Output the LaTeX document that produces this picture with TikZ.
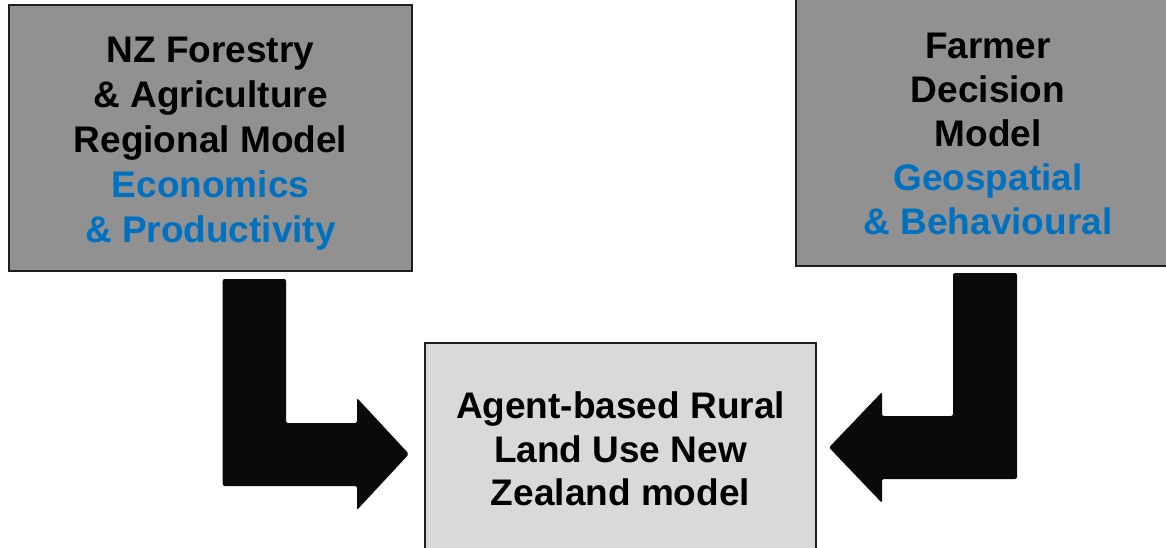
\documentclass[tikz,border=0pt]{standalone}
\usepackage{fontspec}
\setmainfont{Liberation Sans}
\definecolor{boxgray}{HTML}{919191}
\definecolor{boxlight}{HTML}{D9D9D9}
\definecolor{accent}{HTML}{0070C0}
\definecolor{arrowblack}{HTML}{0A0A0A}
\definecolor{edge}{HTML}{1E1E1E}
\tikzset{
  modelbox/.style={draw=edge, line width=1.3pt, inner sep=0pt},
  boxtext/.style={inner sep=0pt, align=center, font=\fontsize{37}{45}\selectfont\bfseries},
  blockarrow/.style={fill=arrowblack, draw=none, rounded corners=2pt}
}
\begin{document}
\begin{tikzpicture}[x=1pt,y=-1pt]
\useasboundingbox (0,0) rectangle (1166,548);
\clip (0,0) rectangle (1166,548);
\fill[white] (0,0) rectangle (1166,548);
\node[modelbox, fill=boxgray, minimum width=403pt, minimum height=266pt] (nzfarm) at (210.5,138) {};
\node[boxtext] (nzfarmtext) at ([yshift=-5.5pt]nzfarm.center)
  {NZ Forestry\\ \& Agriculture\\ Regional Model\\ \textcolor{accent}{Economics}\\ \textcolor{accent}{\& Productivity}};
\node[modelbox, fill=boxgray, minimum width=384pt, minimum height=268pt] (farmer) at (988,132) {};
\node[boxtext, font=\fontsize{37}{44}\selectfont\bfseries] (farmertext) at ([yshift=-2pt]farmer.center)
  {Farmer\\ Decision\\ Model\\ \textcolor{accent}{Geospatial}\\ \textcolor{accent}{\& Behavioural}};
\node[modelbox, fill=boxlight, minimum width=391pt, minimum height=212pt] (arlunz) at (620.5,449) {};
\node[boxtext, font=\fontsize{37}{43.5}\selectfont\bfseries] (arlunztext) at (arlunz.center)
  {Agent-based Rural\\ Land Use New\\ Zealand model};
% left block arrow
\fill[blockarrow] (222.7,279) -- (286,279) -- (286,423) -- (357,423) -- (357,398)
  -- (409,454) -- (357,510) -- (357,486) -- (222.7,486) -- cycle;
% right block arrow
\fill[blockarrow] (953,273) -- (1017,273) -- (1017,479) -- (882,479) -- (882,503)
  -- (829,447.5) -- (882,392) -- (882,416) -- (953,416) -- cycle;
\end{tikzpicture}
\end{document}
